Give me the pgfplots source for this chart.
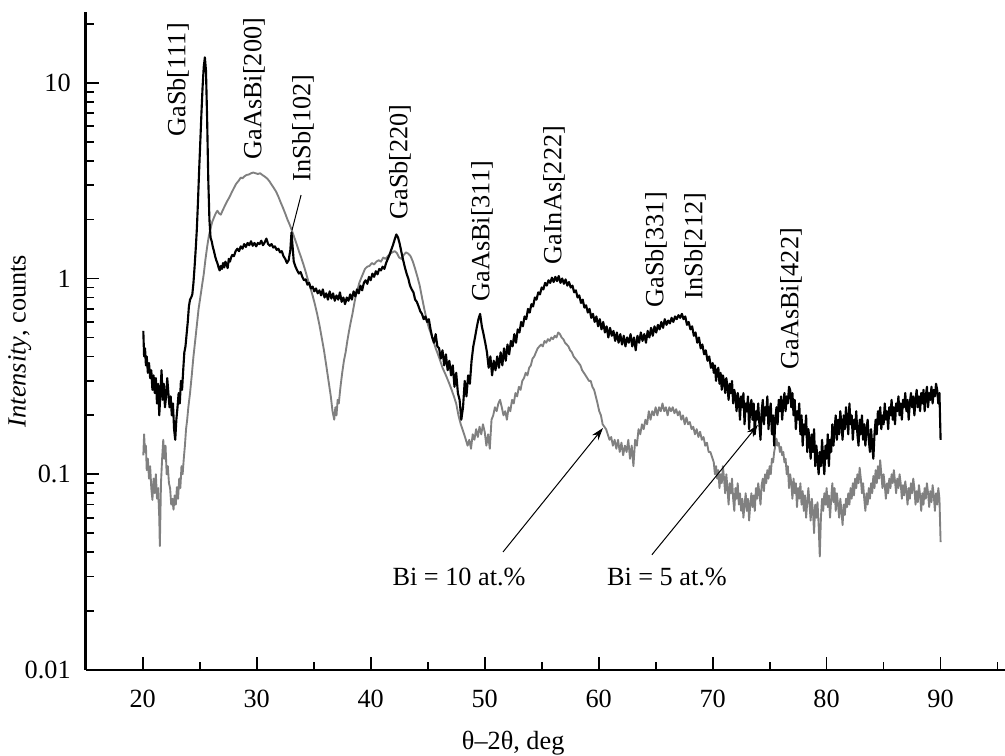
\documentclass[border=0pt]{standalone}
\usepackage{pgfplots}
\pgfplotsset{compat=1.18}
\usepackage{fontspec}
\setmainfont{Liberation Serif}
\usetikzlibrary{arrows.meta}
\definecolor{grayline}{RGB}{128,128,128}
\begin{document}
\begin{tikzpicture}[font=\fontsize{10.5}{12.6}\selectfont]
\begin{axis}[
  name=ax,
  scale only axis, width=367.7pt, height=263.2pt,
  ymode=log, log basis y=10,
  xmin=15, xmax=95.65, ymin=0.01, ymax=23,
  axis lines*=left,
  axis line style={line width=1pt},
  tick align=inside,
  major tick length=5.2pt, minor tick length=3.2pt,
  tick style={black, line width=0.7pt},
  xtick={20,30,40,50,60,70,80,90},
  xticklabels={20,30,40,50,60,70,80,90},
  minor xtick={25,35,45,55,65,75,85,95},
  ytick={0.01,0.1,1,10},
  yticklabels={0.01,0.1,1,10},
  minor ytick={0.02,0.03,0.04,0.05,0.06,0.07,0.08,0.09,0.2,0.3,0.4,0.5,0.6,0.7,0.8,0.9,2,3,4,5,6,7,8,9,20},
  xticklabel style={yshift=-4.5pt},
  yticklabel style={xshift=-2.5pt},
  tick label style={font=\fontsize{10.5}{12.6}\selectfont},
  label style={font=\fontsize{10.5}{12.6}\selectfont},
  xlabel={θ–2θ, deg},
  xlabel style={at={(axis description cs:0.465,-0.111)}, anchor=center},
  ylabel={\textit{Intensity}, counts},
  ylabel style={at={(axis description cs:-0.0718,0.5)}, anchor=center, rotate=0},
  clip=false,
]
% Bi = 10 at.% (gray)
\addplot[color=grayline, line width=0.75pt, line join=round] coordinates {
(20.05,0.125) (20.12,0.16) (20.2,0.13) (20.28,0.14) (20.35,0.105) (20.45,0.12) (20.55,0.095) (20.65,0.11)
(20.75,0.085) (20.85,0.074) (20.95,0.095) (21.05,0.08) (21.15,0.10) (21.25,0.075) (21.35,0.085) (21.45,0.06) (21.5,0.043)
(21.6,0.09) (21.7,0.12) (21.8,0.15) (21.9,0.12) (22.0,0.14) (22.1,0.10) (22.2,0.11) (22.3,0.09)
(22.4,0.085) (22.5,0.07) (22.6,0.075) (22.7,0.066) (22.8,0.078) (22.9,0.07) (23.0,0.086) (23.1,0.075)
(23.2,0.095) (23.3,0.085) (23.4,0.11) (23.5,0.10) (23.6,0.12) (23.7,0.14) (23.8,0.17) (23.9,0.19)
(24.0,0.22) (24.15,0.26) (24.3,0.32) (24.45,0.40) (24.6,0.48) (24.75,0.58) (24.9,0.70) (25.05,0.80)
(25.2,0.92) (25.35,1.05) (25.5,1.25) (25.65,1.45) (25.8,1.65) (25.95,1.80) (26.1,1.95) (26.25,2.05)
(26.4,2.15) (26.55,2.22) (26.7,2.15) (26.85,2.12) (27.0,2.22) (27.2,2.35) (27.4,2.48) (27.6,2.60)
(27.8,2.75) (28.0,2.90) (28.2,3.05) (28.4,3.15) (28.6,3.28) (28.75,3.25) (28.9,3.32) (29.1,3.38)
(29.3,3.40) (29.5,3.45) (29.7,3.48) (29.9,3.45) (30.1,3.42) (30.3,3.45) (30.5,3.38) (30.7,3.32)
(30.9,3.25) (31.1,3.15) (31.3,3.02) (31.5,2.90) (31.7,2.78) (31.9,2.62) (32.1,2.45) (32.3,2.30)
(32.5,2.15) (32.7,2.00) (32.9,1.88) (33.1,1.75) (33.3,1.62) (33.5,1.50) (33.7,1.38) (33.9,1.28)
(34.1,1.18) (34.3,1.08) (34.5,0.98) (34.7,0.90) (34.9,0.82) (35.1,0.74) (35.3,0.66) (35.5,0.58)
(35.7,0.50) (35.9,0.43) (36.1,0.36) (36.3,0.30) (36.5,0.25) (36.65,0.21) (36.8,0.19) (36.9,0.22)
(37.0,0.20) (37.1,0.24) (37.2,0.23) (37.35,0.28) (37.5,0.33) (37.65,0.38) (37.8,0.42) (37.95,0.48)
(38.1,0.54) (38.25,0.60) (38.4,0.66) (38.55,0.74) (38.7,0.82) (38.85,0.88) (39.0,0.95) (39.15,1.00)
(39.3,1.05) (39.5,1.12) (39.7,1.15) (39.9,1.16) (40.1,1.20) (40.3,1.18) (40.5,1.22) (40.7,1.24)
(40.9,1.22) (41.1,1.28) (41.3,1.26) (41.5,1.30) (41.7,1.34) (41.9,1.36) (42.1,1.38) (42.3,1.35)
(42.5,1.28) (42.7,1.26) (42.9,1.32) (43.1,1.36) (43.3,1.34) (43.5,1.30) (43.7,1.22) (43.9,1.12)
(44.1,1.02) (44.3,0.92) (44.5,0.80) (44.7,0.70) (44.9,0.62) (45.1,0.56) (45.3,0.52) (45.5,0.48)
(45.7,0.44) (45.9,0.41) (46.1,0.38) (46.3,0.35) (46.5,0.33) (46.7,0.31) (46.9,0.29) (47.1,0.27)
(47.3,0.25) (47.5,0.23) (47.7,0.20) (47.9,0.18) (48.05,0.17) (48.2,0.16) (48.35,0.15) (48.5,0.14)
(48.65,0.15) (48.8,0.135) (48.95,0.16) (49.1,0.15) (49.25,0.17) (49.4,0.155) (49.55,0.175) (49.7,0.16)
(49.85,0.18) (50.0,0.165) (50.15,0.14) (50.3,0.16) (50.45,0.135) (50.6,0.19) (50.75,0.20) (50.9,0.22)
(51.05,0.21) (51.2,0.23) (51.35,0.24) (51.5,0.22) (51.65,0.20) (51.8,0.21) (51.95,0.19) (52.1,0.22)
(52.25,0.21) (52.4,0.24) (52.55,0.23) (52.7,0.26) (52.85,0.25) (53.0,0.28) (53.15,0.27) (53.3,0.30)
(53.45,0.31) (53.6,0.33) (53.75,0.32) (53.9,0.35) (54.05,0.36) (54.2,0.39) (54.35,0.40) (54.5,0.42)
(54.65,0.44) (54.8,0.45) (54.95,0.46) (55.1,0.45) (55.25,0.48) (55.4,0.47) (55.55,0.49) (55.7,0.48)
(55.85,0.50) (56.0,0.49) (56.15,0.51) (56.3,0.50) (56.45,0.53) (56.6,0.52) (56.75,0.50) (56.9,0.49)
(57.05,0.47) (57.2,0.46) (57.35,0.45) (57.5,0.43) (57.65,0.42) (57.8,0.40) (57.95,0.39) (58.1,0.38)
(58.25,0.37) (58.4,0.36) (58.55,0.34) (58.7,0.33) (58.85,0.32) (59.0,0.31) (59.15,0.30) (59.3,0.30)
(59.45,0.28) (59.6,0.27) (59.75,0.25) (59.9,0.23) (60.05,0.21) (60.2,0.20) (60.35,0.18) (60.5,0.175)
(60.65,0.17) (60.8,0.16) (60.95,0.15) (61.1,0.155) (61.25,0.14) (61.4,0.15) (61.55,0.135) (61.7,0.15)
(61.85,0.13) (62.0,0.145) (62.15,0.125) (62.3,0.14) (62.45,0.13) (62.6,0.15) (62.75,0.12) (62.9,0.14)
(63.05,0.11) (63.2,0.15) (63.35,0.14) (63.5,0.17) (63.65,0.16) (63.8,0.18) (63.95,0.17) (64.1,0.19)
(64.25,0.18) (64.4,0.21) (64.55,0.19) (64.7,0.21) (64.85,0.20) (65.0,0.22) (65.15,0.20) (65.3,0.22)
(65.45,0.21) (65.6,0.23) (65.75,0.21) (65.9,0.22) (66.05,0.20) (66.2,0.22) (66.35,0.21) (66.5,0.22)
(66.65,0.205) (66.8,0.215) (66.95,0.20) (67.1,0.21) (67.25,0.19) (67.4,0.20) (67.55,0.18) (67.7,0.195)
(67.85,0.18) (68.0,0.185) (68.15,0.17) (68.3,0.175) (68.45,0.16) (68.6,0.17) (68.75,0.155) (68.9,0.165)
(69.05,0.15) (69.2,0.155) (69.35,0.14) (69.5,0.145) (69.65,0.13) (69.8,0.13) (69.9,0.125)
(70.0,0.12) (70.1,0.115) (70.2,0.10) (70.3,0.11) (70.4,0.095) (70.5,0.105) (70.6,0.085) (70.7,0.10)
(70.8,0.09) (70.9,0.11) (71.0,0.095) (71.1,0.08) (71.2,0.10) (71.3,0.085) (71.4,0.07) (71.5,0.09)
(71.6,0.08) (71.7,0.095) (71.8,0.075) (71.9,0.065) (72.0,0.085) (72.1,0.075) (72.2,0.09) (72.3,0.07)
(72.4,0.08) (72.5,0.065) (72.6,0.075) (72.7,0.06) (72.8,0.07) (72.9,0.08) (73.0,0.065) (73.1,0.075)
(73.2,0.058) (73.3,0.07) (73.4,0.08) (73.5,0.068) (73.6,0.078) (73.7,0.065) (73.8,0.085) (73.9,0.075)
(74.0,0.09) (74.1,0.08) (74.2,0.07) (74.3,0.088) (74.4,0.095) (74.5,0.082) (74.6,0.10) (74.7,0.09)
(74.8,0.105) (74.9,0.095) (75.0,0.11) (75.1,0.10) (75.2,0.12) (75.3,0.115) (75.4,0.13) (75.5,0.14)
(75.6,0.152) (75.7,0.14) (75.8,0.145) (75.9,0.13) (76.0,0.138) (76.1,0.125) (76.2,0.13) (76.3,0.115)
(76.4,0.12) (76.5,0.10) (76.6,0.11) (76.7,0.085) (76.8,0.10) (76.9,0.09) (77.0,0.075) (77.1,0.095)
(77.2,0.08) (77.3,0.09) (77.4,0.068) (77.5,0.085) (77.6,0.075) (77.7,0.09) (77.8,0.07) (77.9,0.082)
(78.0,0.065) (78.1,0.078) (78.2,0.06) (78.3,0.072) (78.4,0.085) (78.5,0.07) (78.6,0.058) (78.7,0.075)
(78.8,0.065) (78.9,0.05) (79.0,0.07) (79.1,0.06) (79.2,0.072) (79.3,0.055) (79.4,0.038) (79.5,0.06)
(79.6,0.075) (79.7,0.065) (79.8,0.08) (79.9,0.07) (80.0,0.085) (80.1,0.068) (80.2,0.078) (80.3,0.06)
(80.4,0.075) (80.5,0.09) (80.6,0.072) (80.7,0.085) (80.8,0.065) (80.9,0.08) (81.0,0.07) (81.1,0.06)
(81.2,0.075) (81.3,0.065) (81.4,0.055) (81.5,0.07) (81.6,0.062) (81.7,0.075) (81.8,0.068) (81.9,0.08)
(82.0,0.07) (82.1,0.085) (82.2,0.075) (82.3,0.09) (82.4,0.078) (82.5,0.095) (82.6,0.085) (82.7,0.10)
(82.8,0.09) (82.9,0.108) (83.0,0.095) (83.1,0.08) (83.2,0.09) (83.3,0.075) (83.4,0.065) (83.5,0.08)
(83.6,0.07) (83.7,0.085) (83.8,0.075) (83.9,0.09) (84.0,0.08) (84.1,0.098) (84.2,0.085) (84.3,0.105)
(84.4,0.09) (84.5,0.11) (84.6,0.095) (84.7,0.118) (84.8,0.10) (84.9,0.085) (85.0,0.10) (85.1,0.088)
(85.2,0.075) (85.3,0.09) (85.4,0.08) (85.5,0.095) (85.6,0.085) (85.7,0.10) (85.8,0.09) (85.9,0.105)
(86.0,0.092) (86.1,0.08) (86.2,0.095) (86.3,0.085) (86.4,0.10) (86.5,0.09) (86.6,0.075) (86.7,0.088)
(86.8,0.078) (86.9,0.092) (87.0,0.082) (87.1,0.07) (87.2,0.085) (87.3,0.075) (87.4,0.09) (87.5,0.08)
(87.6,0.095) (87.7,0.085) (87.8,0.07) (87.9,0.082) (88.0,0.072) (88.1,0.088) (88.2,0.078) (88.3,0.065)
(88.4,0.08) (88.5,0.07) (88.6,0.085) (88.7,0.075) (88.8,0.09) (88.9,0.08) (89.0,0.068) (89.1,0.082)
(89.2,0.072) (89.3,0.088) (89.4,0.078) (89.5,0.065) (89.6,0.08) (89.7,0.07) (89.8,0.085) (89.9,0.075)
(90.0,0.045)
};
% Bi = 5 at.% (black)
\addplot[color=black, line width=0.85pt, line join=round] coordinates {
(20.05,0.54) (20.12,0.40) (20.2,0.44) (20.28,0.36) (20.35,0.40) (20.45,0.33) (20.55,0.37) (20.65,0.31) (20.75,0.34)
(20.85,0.27) (20.95,0.32) (21.05,0.26) (21.15,0.31) (21.25,0.23) (21.35,0.29) (21.45,0.20) (21.55,0.26)
(21.65,0.34) (21.75,0.24) (21.85,0.29) (21.95,0.22) (22.05,0.25) (22.15,0.31) (22.25,0.26) (22.35,0.22)
(22.45,0.25) (22.55,0.20) (22.65,0.23) (22.75,0.17) (22.85,0.15) (22.95,0.19) (23.05,0.22) (23.15,0.26)
(23.25,0.23) (23.35,0.30) (23.45,0.27) (23.55,0.34) (23.65,0.42) (23.75,0.45) (23.85,0.52) (23.95,0.60)
(24.05,0.72) (24.15,0.78) (24.25,0.80) (24.35,0.83) (24.45,0.95) (24.55,1.15) (24.65,1.42) (24.75,1.8)
(24.85,2.5) (24.95,3.6) (25.05,5.0) (25.15,7.0) (25.25,9.5) (25.35,12.0) (25.45,13.5) (25.55,11.5)
(25.65,6.5) (25.75,3.2) (25.85,2.0) (25.95,1.62) (26.05,1.55) (26.15,1.45) (26.25,1.38) (26.35,1.30)
(26.45,1.24) (26.55,1.20) (26.65,1.14) (26.75,1.10) (26.85,1.16) (26.95,1.12) (27.05,1.20) (27.15,1.14)
(27.25,1.22) (27.35,1.18) (27.45,1.13) (27.55,1.26) (27.65,1.22) (27.75,1.28) (27.85,1.32) (28.0,1.30)
(28.15,1.38) (28.3,1.42) (28.45,1.38) (28.6,1.46) (28.75,1.42) (28.9,1.50) (29.05,1.45) (29.2,1.52)
(29.35,1.48) (29.5,1.55) (29.65,1.47) (29.8,1.52) (29.95,1.46) (30.1,1.52) (30.25,1.50) (30.4,1.56)
(30.55,1.48) (30.7,1.53) (30.85,1.60) (31.0,1.50) (31.15,1.47) (31.3,1.50) (31.45,1.44) (31.6,1.46)
(31.75,1.40) (31.9,1.42) (32.05,1.36) (32.2,1.38) (32.35,1.30) (32.5,1.26) (32.65,1.20) (32.8,1.24)
(32.95,1.40) (33.05,1.72) (33.15,1.45) (33.25,1.22) (33.4,1.15) (33.55,1.10) (33.7,1.06) (33.85,1.08)
(34.0,1.02) (34.15,0.98) (34.3,0.99) (34.45,0.93) (34.6,0.95) (34.75,0.89) (34.9,0.91) (35.05,0.86)
(35.2,0.89) (35.35,0.84) (35.5,0.87) (35.65,0.82) (35.8,0.88) (35.95,0.80) (36.1,0.84) (36.25,0.78)
(36.4,0.86) (36.55,0.79) (36.7,0.84) (36.85,0.77) (37.0,0.82) (37.15,0.78) (37.3,0.85) (37.45,0.76)
(37.6,0.80) (37.75,0.74) (37.9,0.80) (38.05,0.77) (38.2,0.83) (38.35,0.78) (38.5,0.86) (38.65,0.81)
(38.8,0.88) (38.95,0.84) (39.1,0.92) (39.25,0.87) (39.4,0.95) (39.55,0.98) (39.7,0.94) (39.85,1.02)
(40.0,0.98) (40.15,1.06) (40.3,1.02) (40.45,1.09) (40.6,1.05) (40.75,1.12) (40.9,1.10) (41.05,1.15)
(41.2,1.12) (41.35,1.20) (41.5,1.26) (41.65,1.32) (41.8,1.40) (41.95,1.48) (42.1,1.58) (42.25,1.68)
(42.4,1.62) (42.55,1.50) (42.7,1.36) (42.85,1.24) (43.0,1.14) (43.15,1.06) (43.3,1.00) (43.45,0.92)
(43.6,0.88) (43.75,0.85) (43.9,0.78) (44.05,0.76) (44.2,0.72) (44.35,0.68) (44.5,0.66) (44.65,0.62)
(44.8,0.64) (44.95,0.60) (45.1,0.62) (45.25,0.55) (45.4,0.50) (45.55,0.47) (45.7,0.52) (45.85,0.45)
(46.0,0.44) (46.15,0.39) (46.3,0.43) (46.45,0.36) (46.6,0.41) (46.75,0.34) (46.9,0.38) (47.05,0.32)
(47.2,0.36) (47.35,0.28) (47.5,0.33) (47.65,0.26) (47.8,0.24) (47.95,0.19) (48.1,0.22) (48.25,0.30)
(48.4,0.25) (48.55,0.32) (48.7,0.29) (48.85,0.38) (49.0,0.45) (49.15,0.50) (49.3,0.56) (49.45,0.62)
(49.6,0.66) (49.75,0.57) (49.9,0.52) (50.05,0.47) (50.2,0.42) (50.35,0.35) (50.5,0.40) (50.65,0.32)
(50.8,0.38) (50.95,0.34) (51.1,0.40) (51.25,0.35) (51.4,0.42) (51.55,0.36) (51.7,0.44) (51.85,0.38)
(52.0,0.46) (52.15,0.41) (52.3,0.48) (52.45,0.45) (52.6,0.52) (52.75,0.47) (52.9,0.55) (53.05,0.53)
(53.2,0.60) (53.35,0.57) (53.5,0.64) (53.65,0.62) (53.8,0.70) (53.95,0.67) (54.1,0.74) (54.25,0.72)
(54.4,0.80) (54.55,0.78) (54.7,0.85) (54.85,0.83) (55.0,0.90) (55.15,0.88) (55.3,0.95) (55.45,0.92)
(55.6,0.98) (55.75,0.95) (55.9,1.01) (56.05,0.96) (56.2,1.02) (56.35,0.97) (56.5,1.03) (56.65,0.95)
(56.8,1.00) (56.95,0.94) (57.1,0.99) (57.25,0.92) (57.4,0.96) (57.55,0.90) (57.7,0.92) (57.85,0.85)
(58.0,0.87) (58.15,0.80) (58.3,0.82) (58.45,0.75) (58.6,0.78) (58.75,0.71) (58.9,0.73) (59.05,0.67)
(59.2,0.70) (59.35,0.63) (59.5,0.66) (59.65,0.60) (59.8,0.64) (59.95,0.57) (60.1,0.62) (60.25,0.55)
(60.4,0.60) (60.55,0.53) (60.7,0.57) (60.85,0.50) (61.0,0.56) (61.15,0.51) (61.3,0.54) (61.45,0.48)
(61.6,0.53) (61.75,0.47) (61.9,0.52) (62.05,0.46) (62.2,0.51) (62.35,0.45) (62.5,0.50) (62.65,0.47)
(62.8,0.52) (62.95,0.45) (63.1,0.50) (63.25,0.43) (63.4,0.51) (63.55,0.47) (63.7,0.53) (63.85,0.48)
(64.0,0.52) (64.15,0.47) (64.3,0.54) (64.45,0.50) (64.6,0.56) (64.75,0.51) (64.9,0.57) (65.05,0.53)
(65.2,0.58) (65.35,0.55) (65.5,0.60) (65.65,0.56) (65.8,0.62) (65.95,0.58) (66.1,0.61) (66.25,0.59)
(66.4,0.63) (66.55,0.60) (66.7,0.64) (66.85,0.62) (67.0,0.65) (67.15,0.63) (67.3,0.66) (67.45,0.62)
(67.6,0.64) (67.75,0.58) (67.9,0.60) (68.05,0.55) (68.2,0.57) (68.35,0.51) (68.5,0.53) (68.65,0.47)
(68.8,0.50) (68.95,0.44) (69.1,0.46) (69.25,0.41) (69.4,0.43) (69.55,0.38) (69.7,0.40) (69.85,0.35)
(70.0,0.37) (70.1,0.33) (70.2,0.36) (70.3,0.30) (70.4,0.34) (70.5,0.35) (70.6,0.29) (70.7,0.33)
(70.8,0.27) (70.9,0.32) (71.0,0.30) (71.1,0.26) (71.2,0.31) (71.3,0.28) (71.4,0.24) (71.5,0.29)
(71.6,0.26) (71.7,0.30) (71.8,0.23) (71.9,0.27) (72.0,0.25) (72.1,0.21) (72.2,0.26) (72.3,0.24)
(72.4,0.19) (72.5,0.25) (72.6,0.22) (72.7,0.26) (72.8,0.18) (72.9,0.23) (73.0,0.21) (73.1,0.25)
(73.2,0.17) (73.3,0.22) (73.4,0.24) (73.5,0.19) (73.6,0.23) (73.7,0.16) (73.8,0.21) (73.9,0.19)
(74.0,0.23) (74.1,0.18) (74.2,0.15) (74.3,0.21) (74.4,0.24) (74.5,0.18) (74.6,0.22) (74.7,0.20)
(74.8,0.25) (74.9,0.17) (75.0,0.21) (75.1,0.23) (75.2,0.16) (75.3,0.20) (75.4,0.14) (75.5,0.19)
(75.6,0.22) (75.7,0.18) (75.8,0.24) (75.9,0.21) (76.0,0.25) (76.1,0.19) (76.2,0.23) (76.3,0.26)
(76.4,0.21) (76.5,0.25) (76.6,0.23) (76.7,0.28) (76.8,0.27) (76.9,0.22) (77.0,0.26) (77.1,0.20)
(77.2,0.24) (77.3,0.17) (77.4,0.21) (77.5,0.19) (77.6,0.23) (77.7,0.16) (77.8,0.20) (77.9,0.14)
(78.0,0.18) (78.1,0.16) (78.2,0.20) (78.3,0.13) (78.4,0.17) (78.5,0.15) (78.6,0.12) (78.7,0.16)
(78.8,0.13) (78.9,0.17) (79.0,0.11) (79.1,0.14) (79.2,0.12) (79.3,0.10) (79.4,0.13) (79.5,0.11)
(79.6,0.15) (79.7,0.12) (79.8,0.10) (79.9,0.14) (80.0,0.12) (80.1,0.16) (80.2,0.11) (80.3,0.15)
(80.4,0.13) (80.5,0.18) (80.6,0.14) (80.7,0.17) (80.8,0.20) (80.9,0.15) (81.0,0.19) (81.1,0.16)
(81.2,0.21) (81.3,0.18) (81.4,0.15) (81.5,0.20) (81.6,0.17) (81.7,0.22) (81.8,0.19) (81.9,0.16)
(82.0,0.23) (82.1,0.18) (82.2,0.20) (82.3,0.15) (82.4,0.19) (82.5,0.17) (82.6,0.21) (82.7,0.16)
(82.8,0.14) (82.9,0.19) (83.0,0.16) (83.1,0.20) (83.2,0.15) (83.3,0.18) (83.4,0.14) (83.5,0.17)
(83.6,0.19) (83.7,0.15) (83.8,0.13) (83.9,0.17) (84.0,0.14) (84.1,0.12) (84.2,0.16) (84.3,0.19)
(84.4,0.16) (84.5,0.21) (84.6,0.18) (84.7,0.22) (84.8,0.17) (84.9,0.20) (85.0,0.18) (85.1,0.23)
(85.2,0.19) (85.3,0.21) (85.4,0.17) (85.5,0.22) (85.6,0.20) (85.7,0.24) (85.8,0.19) (85.9,0.22)
(86.0,0.18) (86.1,0.23) (86.2,0.21) (86.3,0.25) (86.4,0.20) (86.5,0.23) (86.6,0.19) (86.7,0.24)
(86.8,0.22) (86.9,0.26) (87.0,0.21) (87.1,0.24) (87.2,0.19) (87.3,0.23) (87.4,0.26) (87.5,0.22)
(87.6,0.25) (87.7,0.20) (87.8,0.24) (87.9,0.27) (88.0,0.22) (88.1,0.25) (88.2,0.21) (88.3,0.26)
(88.4,0.23) (88.5,0.27) (88.6,0.21) (88.7,0.25) (88.8,0.28) (88.9,0.22) (89.0,0.26) (89.1,0.24)
(89.2,0.28) (89.3,0.23) (89.4,0.27) (89.5,0.25) (89.6,0.29) (89.7,0.27) (89.8,0.23) (89.9,0.26)
(90.0,0.15)
};
% annotations
\tikzset{ann/.style={rotate=90, anchor=west, inner sep=0pt, font=\fontsize{10.5}{12.6}\selectfont}}
\node[ann] at (axis cs:23.10,5.29) {GaSb[111]};
\node[ann] at (axis cs:29.76,4.04) {GaAsBi[200]};
\node[ann] at (axis cs:34.06,3.12) {InSb[102]};
\draw[line width=0.4pt] (axis cs:33.89,2.67) -- (axis cs:33.10,1.77);
\node[ann] at (axis cs:42.57,1.99) {GaSb[220]};
\node[ann] at (axis cs:49.76,0.759) {GaAsBi[311]};
\node[ann] at (axis cs:56.08,1.174) {GaInAs[222]};
\node[ann] at (axis cs:65.03,0.708) {GaSb[331]};
\node[ann] at (axis cs:68.45,0.778) {InSb[212]};
\node[ann] at (axis cs:76.87,0.341) {GaAsBi[422]};
\node[anchor=center, inner sep=0pt] at (axis cs:47.75,0.0298) {Bi = 10 at.\%};
\node[anchor=center, inner sep=0pt] at (axis cs:65.99,0.0298) {Bi = 5 at.\%};
\draw[line width=0.4pt, -{Stealth[length=5pt,width=3.2pt]}] (axis cs:51.61,0.0401) -- (axis cs:60.38,0.1724);
\draw[line width=0.4pt, -{Stealth[length=5pt,width=3.2pt]}] (axis cs:64.67,0.0388) -- (axis cs:73.97,0.1786);
\end{axis}
\pgfresetboundingbox
\path ([xshift=-34.3pt,yshift=-34.4pt]ax.south west) rectangle ([yshift=4.8pt]ax.north east);
\end{tikzpicture}
\end{document}
